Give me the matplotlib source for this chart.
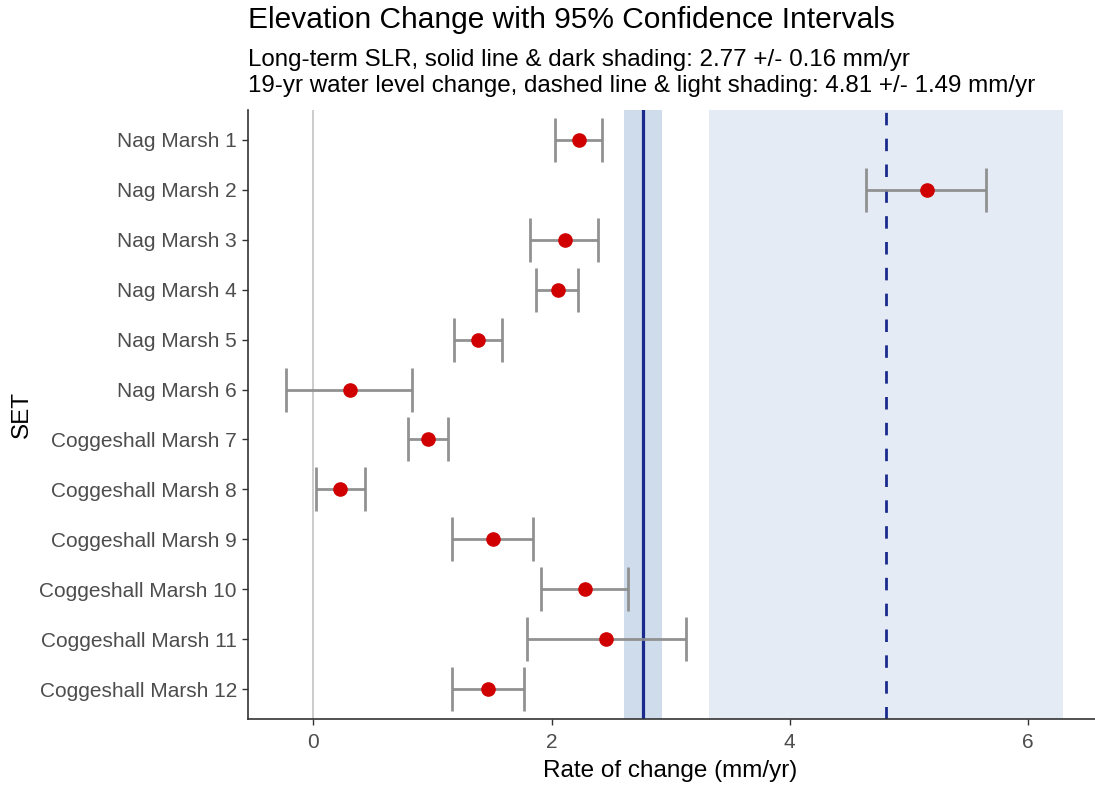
import matplotlib
matplotlib.use("Agg")
import matplotlib.pyplot as plt
import numpy as np

plt.rcParams['font.family'] = ['Liberation Sans', 'DejaVu Sans']

sites = ["Nag Marsh 1", "Nag Marsh 2", "Nag Marsh 3", "Nag Marsh 4", "Nag Marsh 5",
         "Nag Marsh 6", "Coggeshall Marsh 7", "Coggeshall Marsh 8", "Coggeshall Marsh 9",
         "Coggeshall Marsh 10", "Coggeshall Marsh 11", "Coggeshall Marsh 12"]
rate = [2.23, 5.15, 2.11, 2.05, 1.38, 0.31, 0.96, 0.22, 1.51, 2.28, 2.46, 1.47]
ci_low = [2.03, 4.64, 1.82, 1.87, 1.18, -0.23, 0.79, 0.02, 1.16, 1.91, 1.79, 1.16]
ci_high = [2.42, 5.65, 2.39, 2.22, 1.58, 0.83, 1.13, 0.43, 1.84, 2.64, 3.13, 1.77]

slr_mean, slr_ci = 2.77, 0.16
wl_mean, wl_ci = 4.81, 1.49

W, H = 1095, 786
fig = plt.figure(figsize=(W / 100, H / 100), dpi=100)
xmin, xmax = -0.55, 6.63
pxu = 119.05
left_px, top_px, bot_px = 248, 110, 719
right_px = left_px + (xmax - xmin) * pxu
ax = fig.add_axes([left_px / W, 1 - bot_px / H, (right_px - left_px) / W, (bot_px - top_px) / H])

ypos = np.arange(len(sites))

ax.axvspan(wl_mean - wl_ci, wl_mean + wl_ci, color='#E4EBF4', lw=0, zorder=0)
ax.axvspan(slr_mean - slr_ci, slr_mean + slr_ci, color='#CEDCEC', lw=0, zorder=0)
ax.axvline(0, color='#BEBEBE', lw=1.1, zorder=1)
ax.axvline(slr_mean, color='#1A2A8C', lw=2.3, zorder=2)
ax.axvline(wl_mean, color='#1A2A8C', lw=2.0, ls=(0, (4.5, 4.8)), zorder=2)

r = np.array(rate)
err = [r - np.array(ci_low), np.array(ci_high) - r]
ax.errorbar(rate, ypos, xerr=err, fmt='none', ecolor='#8C8C8C', elinewidth=2.0,
            capsize=15.5, capthick=2.0, zorder=3, alpha=0.95)
ax.plot(rate, ypos, 'o', color='#D00000', markersize=9.5, zorder=4, mec='#D00000')

ax.set_xlim(xmin, xmax)
ax.set_ylim(len(sites) - 1 + 0.6, -0.6)
ax.set_yticks(ypos)
ax.set_yticklabels(sites)
ax.set_xticks([0, 2, 4, 6])
ax.tick_params(axis='both', colors='#333333', labelcolor='#4D4D4D', labelsize=15,
               length=4, width=1)
ax.tick_params(axis='x', pad=6)
ax.tick_params(axis='y', pad=4)
for s in ['top', 'right']:
    ax.spines[s].set_visible(False)
for s in ['left', 'bottom']:
    ax.spines[s].set_color('#333333')
    ax.spines[s].set_linewidth(1.2)

ax.set_xlabel('Rate of change (mm/yr)', fontsize=17.5, color='black')
ax.set_ylabel('SET', fontsize=17.5, color='black')
axw = right_px - left_px
axh = bot_px - top_px
ax.xaxis.set_label_coords((670 - left_px) / axw, -(771 - bot_px) / axh)
ax.xaxis.label.set_va('center')
ax.yaxis.set_label_coords((22 - left_px) / axw, 0.5)
ax.yaxis.label.set_va('center')

fig.text(left_px / W, 1 - 20 / H, 'Elevation Change with 95% Confidence Intervals',
         fontsize=21.5, ha='left', va='center', color='black')
fig.text(left_px / W, 1 - 60 / H, 'Long-term SLR, solid line & dark shading: 2.77 +/- 0.16 mm/yr',
         fontsize=17.4, ha='left', va='center', color='black')
fig.text(left_px / W, 1 - 86 / H,
         '19-yr water level change, dashed line & light shading: 4.81 +/- 1.49 mm/yr',
         fontsize=17.4, ha='left', va='center', color='black')

fig.savefig('out.png', dpi=100)
